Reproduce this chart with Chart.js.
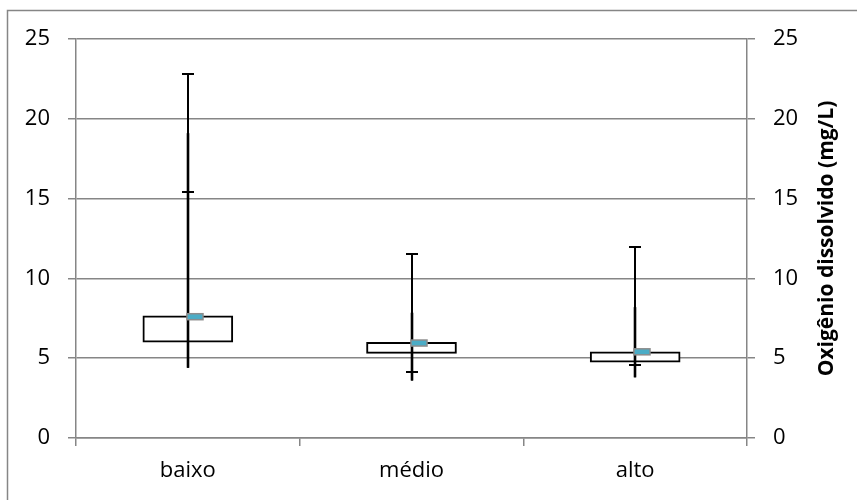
<!DOCTYPE html>
<html>
<head>
<meta charset="utf-8">
<script src="https://cdn.jsdelivr.net/npm/chart.js@4.4.1/dist/chart.umd.min.js"></script>
<style>
html, body { margin: 0; padding: 0; background: #fff; }
</style>
</head>
<body>
<canvas id="oxigenio" width="857" height="500"></canvas>
<script>
// dados
const categorias = ['baixo', 'médio', 'alto'];
const minimos = [4.4, 3.6, 3.8];
const quartil1 = [6.0, 5.3, 4.75];
const quartil3 = [7.65, 6.0, 5.4];
const medianas = [7.6, 5.95, 5.4];
const maximos = [22.8, 11.55, 11.95];
const capsInternos = [15.4, 4.15, 4.6];
const hastesInternas = [19.1, 7.85, 8.2];
const ticksY = [0, 5, 10, 15, 20, 25];
const tituloY = 'Oxigênio dissolvido (mg/L)';

const cinza = '#868686';

const bigodes = {
    id: 'bigodes',
    afterDatasetsDraw(chart) {
        const ctx = chart.ctx;
        const x = chart.scales.x, y = chart.scales.y;
        ctx.save();
        ctx.strokeStyle = '#000';
        categorias.forEach((c, i) => {
            const cx = Math.round(x.getPixelForValue(i));
            // haste fina até o máximo
            ctx.lineWidth = 2;
            ctx.beginPath();
            ctx.moveTo(cx, y.getPixelForValue(minimos[i]));
            ctx.lineTo(cx, y.getPixelForValue(maximos[i]));
            ctx.stroke();
            // haste mais grossa
            ctx.lineWidth = 2.6;
            ctx.beginPath();
            ctx.moveTo(cx, y.getPixelForValue(minimos[i]));
            ctx.lineTo(cx, y.getPixelForValue(hastesInternas[i]));
            ctx.stroke();
            // traços horizontais
            ctx.lineWidth = 2;
            [maximos[i], capsInternos[i]].forEach(v => {
                const py = Math.round(y.getPixelForValue(v));
                ctx.beginPath();
                ctx.moveTo(cx - 6, py);
                ctx.lineTo(cx + 6, py);
                ctx.stroke();
            });
            // marcador da mediana
            const my = y.getPixelForValue(medianas[i]);
            ctx.fillStyle = '#4bacc6';
            ctx.strokeStyle = '#8c8c8c';
            ctx.lineWidth = 1.5;
            ctx.fillRect(cx - 1, my - 3, 16, 6);
            ctx.strokeRect(cx - 1, my - 3, 16, 6);
            ctx.strokeStyle = '#000';
        });
        ctx.restore();
    },
    afterDraw(chart) {
        const ctx = chart.ctx;
        const y = chart.scales.y;
        ctx.save();
        // moldura
        ctx.strokeStyle = cinza;
        ctx.lineWidth = 1.5;
        ctx.strokeRect(7.5, 10.5, 900, 600);
        // título do eixo direito
        ctx.translate(827, (y.top + y.bottom) / 2);
        ctx.rotate(-Math.PI / 2);
        ctx.fillStyle = '#000';
        ctx.font = 'bold 21px "Open Sans"';
        ctx.textAlign = 'center';
        ctx.textBaseline = 'middle';
        ctx.fillText(tituloY, 0, 0);
        ctx.restore();
    }
};

Chart.defaults.font.family = '"Open Sans"';
Chart.defaults.font.size = 22;
Chart.defaults.color = '#000';

const ctx = document.getElementById('oxigenio').getContext('2d');
const grafico = new Chart(ctx, {
    type: 'bar',
    data: {
        labels: categorias,
        datasets: [{
            data: quartil1.map((q, i) => [q, quartil3[i]]),
            backgroundColor: '#fff',
            borderColor: '#000',
            borderWidth: 2,
            borderSkipped: false,
            barThickness: 90
        }]
    },
    options: {
        responsive: false,
        animation: false,
        layout: { padding: { top: 39, left: 0, right: 0, bottom: 0 } },
        plugins: { legend: { display: false }, tooltip: { enabled: false } },
        scales: {
            x: {
                offset: true,
                grid: { offset: true, drawOnChartArea: false, color: cinza, lineWidth: 1.5, tickLength: 8 },
                border: { color: cinza, width: 1.5 },
                ticks: { padding: 12 },
                afterFit: s => { s.height = 62; }
            },
            y: {
                position: 'left',
                min: 0, max: 25,
                afterBuildTicks: s => { s.ticks = ticksY.map(v => ({ value: v })); },
                grid: { color: cinza, lineWidth: 1.5, tickLength: 8 },
                border: { color: cinza, width: 1.5 },
                ticks: { padding: 18 },
                afterFit: s => { s.width = 76; }
            },
            y1: {
                position: 'right',
                min: 0, max: 25,
                afterBuildTicks: s => { s.ticks = ticksY.map(v => ({ value: v })); },
                grid: { drawOnChartArea: false, color: cinza, lineWidth: 1.5, tickLength: 8 },
                border: { color: cinza, width: 1.5 },
                ticks: { padding: 18 },
                afterFit: s => { s.width = 110; }
            }
        }
    },
    plugins: [bigodes]
});
</script>
</body>
</html>
